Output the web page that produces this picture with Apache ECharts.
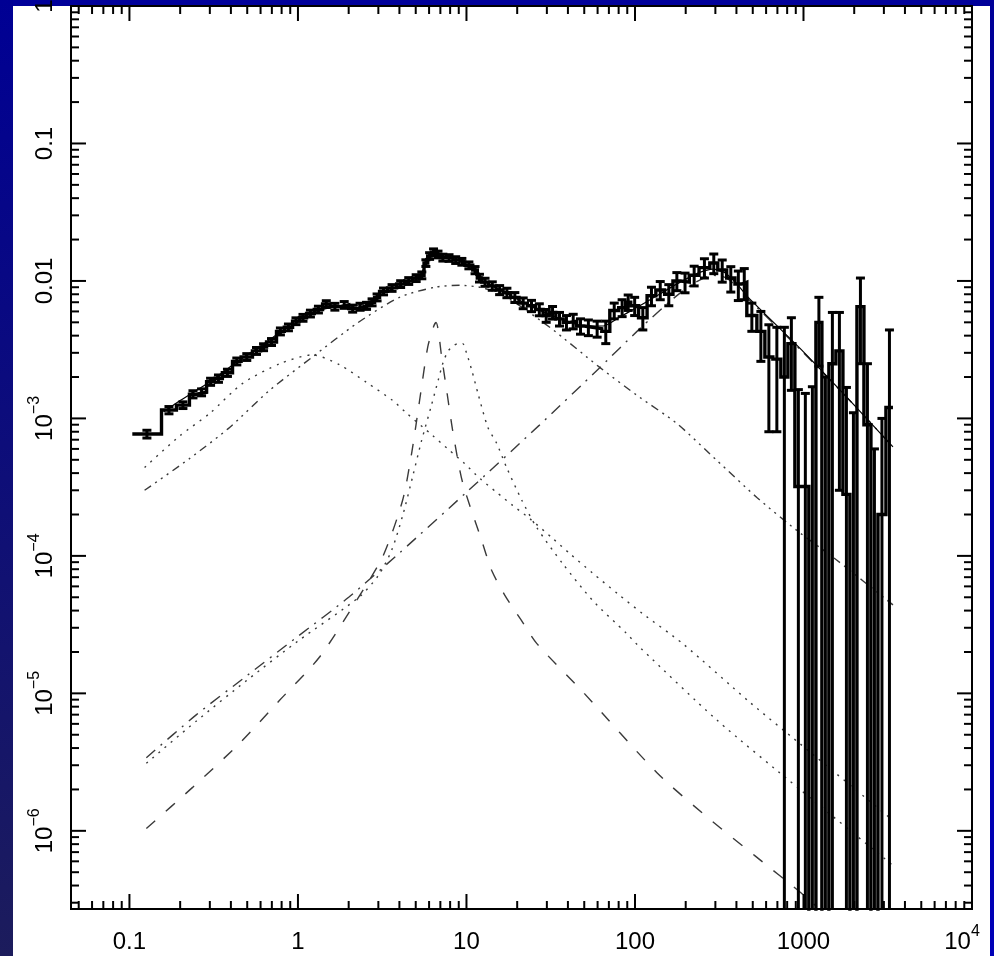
<!DOCTYPE html>
<html><head><meta charset="utf-8">
<script src="https://cdn.jsdelivr.net/npm/echarts@6/dist/echarts.min.js"></script>
<style>html,body{margin:0;padding:0;background:#00009a;}#c{width:994px;height:956px;}</style>
</head><body><div id="c"></div>
<script>
// ---------------- axis ranges & tick labels ----------------
const X_MIN = 0.045, X_MAX = 1e4, Y_MIN = 2.7e-7, Y_MAX = 1;
const xTickExp = [-1, 0, 1, 2, 3, 4];
const xTickLabels = ['0.1', '1', '10', '100', '1000', '10^4'];
const yTickExp = [-6, -5, -4, -3, -2, -1, 0];
const yTickLabels = ['10^-6', '10^-5', '10^-4', '10^-3', '0.01', '0.1', '1'];

// ---------------- observed spectrum (histogram bins) ----------------
const binEdges = [
  0.104, 0.155, 0.19, 0.227, 0.25, 0.287, 0.32, 0.356, 0.409, 0.46,
  0.537, 0.6, 0.651, 0.746, 0.83, 0.929, 1.02, 1.125, 1.25, 1.40,
  1.55, 1.77, 2.0, 2.23, 2.45, 2.66, 2.85, 3.05, 3.4, 3.85,
  4.3, 4.8, 5.27, 5.6, 5.89, 6.2, 6.56, 7.0, 7.5, 8.28,
  9.0, 9.8, 10.9, 11.6, 12.3, 13.5, 15.0, 16.5, 18.3, 20.5,
  23, 25.7, 28.5, 31, 33.9, 37.5, 41, 45.1, 50, 56,
  63.5, 70.9, 80, 88, 94.4, 105, 118, 133, 150, 168,
  187, 210, 240, 278, 310, 350, 392, 430, 461,
  529, 590, 658, 734, 808, 889, 978, 1076, 1185, 1286,
  1415, 1557, 1714, 1886, 2076, 2284, 2513, 2766, 3085, 3396
];
const dataVals = [
  7.7e-4, 1.15e-3, 1.25e-3, 1.5e-3, 1.55e-3, 1.85e-3, 1.95e-3, 2.15e-3, 2.6e-3, 2.8e-3,
  3.1e-3, 3.3e-3, 3.6e-3, 4.3e-3, 4.6e-3, 5.1e-3, 5.4e-3, 5.8e-3, 6.2e-3, 6.8e-3,
  6.5e-3, 6.7e-3, 6.3e-3, 6.5e-3, 6.6e-3, 7.0e-3, 7.6e-3, 8.4e-3, 8.9e-3, 9.5e-3,
  1.0e-2, 1.05e-2, 1.1e-2, 1.35e-2, 1.52e-2, 1.62e-2, 1.56e-2, 1.48e-2, 1.47e-2, 1.42e-2,
  1.38e-2, 1.3e-2, 1.2e-2, 1.05e-2, 9.8e-3, 9.2e-3, 8.6e-3, 8.2e-3, 7.6e-3, 6.9e-3,
  6.6e-3, 6.2e-3, 5.6e-3, 5.9e-3, 5.3e-3, 5.0e-3, 5.1e-3, 4.7e-3, 4.6e-3, 4.5e-3,
  4.3e-3, 6.1e-3, 6.4e-3, 7.0e-3, 6.6e-3, 5.4e-3, 7.8e-3, 8.6e-3, 8.0e-3, 1.0e-2,
  9.8e-3, 1.1e-2, 1.25e-2, 1.35e-2, 1.2e-2, 1.05e-2, 9.5e-3, 9.8e-3,
  5.6e-3, 4.3e-3, 2.8e-3, 2.7e-3, 2.0e-3, 3.5e-3, 3.2e-4, 3.2e-4, -8e-4, 5.0e-3,
  -1e-3, 2.5e-3, 3.1e-3, 2.8e-4, -4e-4, 6.5e-3, 9e-4, -6e-4, 2e-4, 1.2e-3
];
const dataErr = [
  5e-5, 7e-5, 7e-5, 9e-5, 9e-5, 1.1e-4, 1.2e-4, 1.3e-4, 1.5e-4, 1.6e-4,
  1.8e-4, 1.9e-4, 2.1e-4, 2.5e-4, 2.6e-4, 2.9e-4, 3.1e-4, 3.3e-4, 3.5e-4, 3.8e-4,
  3.7e-4, 3.8e-4, 3.7e-4, 3.8e-4, 3.9e-4, 4.1e-4, 4.4e-4, 4.8e-4, 5.0e-4, 5.4e-4,
  5.7e-4, 6.0e-4, 6.3e-4, 7.5e-4, 8.5e-4, 9e-4, 8.8e-4, 8.5e-4, 8.2e-4, 8e-4,
  7.8e-4, 7.5e-4, 7.2e-4, 6.8e-4, 6.6e-4, 6.5e-4, 6.5e-4, 6.5e-4, 6.3e-4, 6.2e-4,
  6.2e-4, 6.2e-4, 6.0e-4, 6.2e-4, 6e-4, 6e-4, 6.2e-4, 6e-4, 6e-4, 6e-4,
  8e-4, 8e-4, 9e-4, 9e-4, 1.0e-3, 1.0e-3, 1.2e-3, 1.3e-3, 1.4e-3, 1.5e-3,
  1.6e-3, 1.8e-3, 2.0e-3, 2.2e-3, 2.2e-3, 2.2e-3, 2.3e-3, 2.5e-3,
  1.3e-3, 1.7e-3, 2.0e-3, 1.9e-3, 2.6e-3, 1.9e-3, 1.3e-3, 1.2e-3, 2.5e-3, 2.6e-3,
  3.0e-3, 3.4e-3, 2.8e-3, 1.4e-3, 1.5e-3, 4.0e-3, 1.6e-3, 1.2e-3, 8e-4, 3.2e-3
];

// ---------------- total model (thin solid) ----------------
const modelPts = [
  [0.16, 1.12e-3], [0.2, 1.35e-3], [0.25, 1.6e-3], [0.3, 1.85e-3],
  [0.4, 2.4e-3], [0.5, 2.9e-3], [0.65, 3.6e-3], [0.8, 4.3e-3], [1.0, 5.0e-3],
  [1.3, 6.0e-3], [1.7, 6.5e-3], [2.2, 6.6e-3], [2.8, 7.3e-3], [3.5, 8.6e-3],
  [4.5, 9.8e-3], [5.3, 1.1e-2], [6.0, 1.45e-2], [6.6, 1.55e-2], [7.5, 1.5e-2],
  [9, 1.4e-2], [11, 1.2e-2], [14, 9.3e-3], [18, 7.9e-3], [25, 6.4e-3],
  [35, 5.4e-3], [50, 4.7e-3], [65, 4.7e-3], [80, 5.4e-3], [100, 6.3e-3],
  [130, 7.6e-3], [180, 9.6e-3], [240, 1.15e-2], [290, 1.22e-2], [340, 1.15e-2],
  [400, 9.6e-3], [470, 7.6e-3], [1000, 3.05e-3], [2000, 1.25e-3], [3396, 6.2e-4]
];

// ---------------- model components ----------------
const compA = [ // dotted, soft bump near 1.3
  [0.123, 4.4e-4], [0.2, 7.5e-4], [0.3, 1.09e-3], [0.47, 1.8e-3], [0.78, 2.5e-3],
  [1.22, 2.9e-3], [1.77, 2.45e-3], [2.55, 1.83e-3], [3.65, 1.35e-3], [4.42, 1.09e-3],
  [6.3, 7.5e-4], [7.94, 5.85e-4], [9.75, 4.7e-4], [12, 3.66e-4], [15.1, 2.9e-4],
  [18.8, 2.33e-4], [23.7, 1.87e-4], [32.5, 1.34e-4], [41, 1.04e-4], [56, 7.5e-5],
  [79, 5.3e-5], [111, 3.8e-5], [192, 2.3e-5], [481, 8.6e-6], [953, 4.3e-6], [3396, 1.19e-6]
];
const compB = [ // dash-dot-dot, broad bump near 9
  [0.123, 3.0e-4], [0.227, 5.1e-4], [0.393, 8.6e-4], [0.678, 1.6e-3], [1.22, 2.8e-3],
  [2.23, 4.9e-3], [4.0, 7.6e-3], [6.5, 9.0e-3], [9.1, 9.3e-3], [12.5, 8.9e-3],
  [17.3, 7.6e-3], [31.2, 4.6e-3], [61.8, 2.35e-3], [107, 1.42e-3], [177, 9.2e-4],
  [306, 4.95e-4], [529, 2.66e-4], [914, 1.53e-4], [1579, 9.3e-5], [3396, 4.4e-5]
];
const compC = [ // dashed, narrow line near 6.6
  [0.126, 1.04e-6], [0.237, 2.07e-6], [0.45, 4.33e-6], [0.778, 8.9e-6], [1.34, 1.83e-5],
  [2.23, 4.75e-5], [3.2, 1.0e-4], [4.18, 2.54e-4], [4.73, 5.6e-4], [5.27, 1.35e-3],
  [5.89, 3.3e-3], [6.4, 4.7e-3], [6.6, 5.0e-3], [6.8, 4.4e-3], [7.1, 2.9e-3],
  [7.63, 1.6e-3], [8.28, 8.2e-4], [9.48, 3.43e-4], [12.3, 1.3e-4], [14.1, 7.85e-5],
  [16.9, 5.17e-5], [21, 3.45e-5], [26.1, 2.31e-5], [50, 1.0e-5], [136, 2.62e-6],
  [270, 1.25e-6], [514, 6.6e-7], [977, 3.5e-7], [1200, 2.8e-7]
];
const compD = [ // dotted, narrow bump near 9
  [0.126, 3.1e-6], [0.25, 6.3e-6], [0.5, 1.25e-5], [1.0, 2.4e-5], [2.3, 5.0e-5],
  [3.0, 7.2e-5], [3.6, 1.1e-4], [4.2, 2.0e-4], [4.8, 3.8e-4], [5.4, 6.8e-4],
  [6.2, 1.25e-3], [6.8, 1.9e-3], [7.3, 2.6e-3], [7.8, 3.1e-3], [8.3, 3.35e-3],
  [8.9, 3.5e-3], [9.5, 3.5e-3], [10.0, 3.0e-3], [10.8, 2.2e-3], [11.7, 1.52e-3],
  [13.4, 8.6e-4], [15.1, 6.6e-4], [17.3, 4.4e-4], [21.3, 2.54e-4], [26.1, 1.61e-4],
  [37.2, 8.8e-5], [56, 4.75e-5], [89, 2.73e-5], [107, 2.16e-5], [306, 6.4e-6],
  [953, 2.0e-6], [3396, 5.6e-7]
];
const compE = [ // dash-dot, hard bump near 300
  [0.126, 3.4e-6], [0.25, 7.0e-6], [0.5, 1.35e-5], [1.0, 2.6e-5], [2.0, 5.0e-5],
  [4.0, 1.05e-4], [10, 2.9e-4], [27, 8.9e-4], [62, 2.35e-3], [107, 4.5e-3],
  [170, 7.5e-3], [230, 9.8e-3], [290, 1.1e-2], [350, 1.05e-2], [420, 8.5e-3],
  [470, 7.4e-3], [1000, 3.0e-3], [2000, 1.25e-3], [3396, 6.2e-4]
];

// ---------------- helpers ----------------
const FONT = "'Liberation Sans', Arial, Helvetica, sans-serif";
const FLOOR = 1e-12;
function toRich(s, last) {
  const p = s.split('^');
  if (p.length < 2) return '{b|' + s + '}';
  return '{b|' + p[0] + '}{' + (last ? 'sp' : 's') + '|' + p[1].replace('-', '\u2212') + '}';
}
function fmt(exps, labels, shiftLast) {
  return function (v) {
    const e = Math.log10(v), r = Math.round(e);
    if (Math.abs(e - r) > 1e-6) return '';
    const k = exps.indexOf(r);
    return k < 0 ? '' : toRich(labels[k], shiftLast && k === exps.length - 1);
  };
}
const richStyle = {
  b: { fontSize: 24, fontFamily: FONT, color: '#000', lineHeight: 30, verticalAlign: 'bottom' },
  s: { fontSize: 16, fontFamily: FONT, color: '#000', lineHeight: 18, verticalAlign: 'top' },
  sp: { fontSize: 16, fontFamily: FONT, color: '#000', lineHeight: 18, verticalAlign: 'top', padding: [0, 20, 0, 0] }
};

const nBins = dataVals.length;
const histData = [];
for (let i = 0; i <= nBins; i++) {
  const v = dataVals[Math.min(i, nBins - 1)];
  histData.push([binEdges[i], Math.max(v, FLOOR)]);
}
const errData = dataVals.map((v, i) => [Math.sqrt(binEdges[i] * binEdges[i + 1]), v, dataErr[i]]);

// tick positions (1..9 x 10^k) for log axes
const tickData = [];
for (let k = -2; k <= 4; k++) for (let m = 1; m <= 9; m++) {
  const v = m * Math.pow(10, k);
  if (v > X_MIN * 1.0001 && v < X_MAX * 0.9999) tickData.push([v, 1e-3, 0, m === 1 ? 1 : 0]);
}
for (let k = -7; k <= 0; k++) for (let m = 1; m <= 9; m++) {
  const v = m * Math.pow(10, k);
  if (v > Y_MIN * 1.0001 && v < Y_MAX * 0.9999) tickData.push([1, v, 1, m === 1 ? 1 : 0]);
}

function ln(x1, y1, x2, y2, w, c) {
  return { type: 'line', shape: { x1, y1, x2, y2 }, style: { stroke: c || '#000', lineWidth: w } };
}

function compSeries(data, dash, w) {
  return {
    type: 'line', data, showSymbol: false, smooth: 0.25, clip: true, z: 2,
    lineStyle: { color: '#3a3a3a', width: w || 1.4, type: dash }, silent: true
  };
}

const chart = echarts.init(document.getElementById('c'), null, { renderer: 'canvas' });
chart.setOption({
  animation: false,
  backgroundColor: '#00009a',
  graphic: [
    { type: 'rect', z: -10, silent: true, shape: { x: 0, y: 0, width: 13, height: 956 },
      style: { fill: new echarts.graphic.LinearGradient(0, 0, 0, 1, [{ offset: 0, color: '#000094' }, { offset: 1, color: '#1c1c5c' }]) } },
    { type: 'rect', z: -10, silent: true, shape: { x: 990, y: 0, width: 4, height: 956 },
      style: { fill: new echarts.graphic.LinearGradient(0, 0, 0, 1, [{ offset: 0, color: '#000098' }, { offset: 1, color: '#0000b8' }]) } },
    { type: 'rect', z: -10, silent: true, shape: { x: 13, y: 6, width: 977, height: 950 }, style: { fill: '#ffffff' } }
  ],
  grid: { left: 71, right: 22, top: 6, bottom: 47, show: true, borderColor: '#000', borderWidth: 2,
          backgroundColor: 'rgba(0,0,0,0)', containLabel: false, outerBoundsMode: 'none' },
  xAxis: {
    type: 'log', logBase: 10, min: X_MIN, max: X_MAX,
    axisLine: { show: false }, axisTick: { show: false }, splitLine: { show: false }, minorTick: { show: false },
    axisLabel: { margin: 15, formatter: fmt(xTickExp, xTickLabels, true), rich: richStyle, showMinLabel: true, showMaxLabel: true, hideOverlap: false }
  },
  yAxis: {
    type: 'log', logBase: 10, min: Y_MIN, max: Y_MAX,
    axisLine: { show: false }, axisTick: { show: false }, splitLine: { show: false }, minorTick: { show: false },
    axisLabel: { margin: 14, rotate: 90, formatter: fmt(yTickExp, yTickLabels, false), rich: richStyle, showMinLabel: true, showMaxLabel: true, hideOverlap: false }
  },
  series: [
    compSeries(compA, [2, 6]),
    compSeries(compB, [8, 5, 2, 5, 2, 5, 2, 5]),
    compSeries(compC, [12, 14]),
    compSeries(compD, [2, 6]),
    compSeries(compE, [12, 7, 2, 7]),
    { type: 'line', data: modelPts, showSymbol: false, smooth: 0.2, clip: true, z: 3, silent: true,
      lineStyle: { color: '#000', width: 1.2 } },
    { type: 'line', data: histData, step: 'end', showSymbol: false, clip: true, z: 4, silent: true,
      lineStyle: { color: '#000', width: 3.4, join: 'miter' } },
    { type: 'custom', data: errData, clip: true, z: 4, silent: true,
      renderItem: function (params, api) {
        const x = api.value(0), v = api.value(1), s = api.value(2);
        const hi = v + s, lo = v - s;
        const pHi = api.coord([x, hi]);
        const pLo = api.coord([x, lo > FLOOR ? lo : FLOOR]);
        const cw = 4.5;
        const ch = [ln(pHi[0], pHi[1], pLo[0], pLo[1], 3)];
        ch.push(ln(pHi[0] - cw, pHi[1], pHi[0] + cw, pHi[1], 3));
        if (lo > FLOOR) ch.push(ln(pLo[0] - cw, pLo[1], pLo[0] + cw, pLo[1], 3));
        return { type: 'group', children: ch };
      }
    },
    { type: 'custom', data: tickData, clip: false, z: 6, silent: true,
      renderItem: function (params, api) {
        const axis = api.value(2), major = api.value(3);
        const len = major ? 15 : 8;
        if (axis === 0) {
          const v = api.value(0);
          const pb = api.coord([v, Y_MIN]), pt = api.coord([v, Y_MAX]);
          return { type: 'group', children: [ln(pb[0], pb[1], pb[0], pb[1] - len, 2), ln(pt[0], pt[1], pt[0], pt[1] + len, 2)] };
        } else {
          const v = api.value(1);
          const pl = api.coord([X_MIN, v]), pr = api.coord([X_MAX, v]);
          return { type: 'group', children: [ln(pl[0], pl[1], pl[0] + len, pl[1], 2), ln(pr[0], pr[1], pr[0] - len, pr[1], 2)] };
        }
      }
    }
  ]
});
</script></body></html>
